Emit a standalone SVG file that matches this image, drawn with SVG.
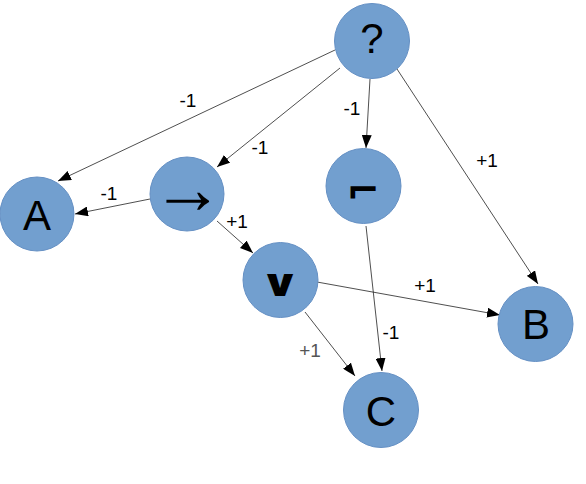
<svg xmlns="http://www.w3.org/2000/svg" width="586" height="484" viewBox="0 0 586 484">
<style>
.n{fill:#729fcf;stroke:#6590c4;stroke-width:1}
.t{font-family:"Liberation Sans","DejaVu Sans",sans-serif;font-size:42px;fill:#000;text-anchor:middle}
.s{font-family:"DejaVu Sans",sans-serif;fill:#000;text-anchor:middle}
.e{stroke:#222;stroke-width:0.8;fill:none;marker-end:url(#ah)}
.l{font-family:"Liberation Sans","DejaVu Sans",sans-serif;font-size:19px;fill:#000;text-anchor:middle}
</style>
<defs>
<marker id="ah" markerUnits="userSpaceOnUse" markerWidth="14" markerHeight="10" refX="13" refY="5" orient="auto">
<path d="M0,0 L13,5 L0,10 Z" fill="#000"/>
</marker>
</defs>
<rect width="586" height="484" fill="#fff"/>
<g id="edges">
<line class="e" x1="335" y1="50" x2="58" y2="181"/>
<line class="e" x1="340" y1="68" x2="217" y2="167"/>
<line class="e" x1="370" y1="79" x2="366" y2="148"/>
<line class="e" x1="397" y1="69" x2="538" y2="284"/>
<line class="e" x1="150" y1="199" x2="75" y2="214"/>
<line class="e" x1="217" y1="221" x2="253" y2="253"/>
<line class="e" x1="317" y1="282" x2="500" y2="315"/>
<line class="e" x1="305" y1="312" x2="355" y2="376"/>
<line class="e" x1="366" y1="226" x2="382" y2="371"/>
<text class="l" x="188" y="107">-1</text>
<text class="l" x="260" y="154">-1</text>
<text class="l" x="352" y="115">-1</text>
<text class="l" x="487" y="167">+1</text>
<text class="l" x="109" y="200">-1</text>
<text class="l" x="237" y="228">+1</text>
<text class="l" x="425" y="292">+1</text>
<text class="l" x="310" y="357" style="fill:#555">+1</text>
<text class="l" x="391" y="339">-1</text>
</g>
<g id="q"><circle class="n" cx="372" cy="41" r="37.5"/><text class="t" x="372" y="53">?</text></g>
<g id="A"><circle class="n" cx="37" cy="214" r="37"/><text class="t" x="37" y="230">A</text></g>
<g id="imp"><circle class="n" cx="187" cy="194" r="37"/><text class="t" x="187.5" y="212.5" style="font-size:72px">→</text></g>
<g id="not"><circle class="n" cx="363.5" cy="186" r="37.5"/><text class="s" x="363" y="204" style="font-size:40px;font-weight:bold">⌐</text></g>
<g id="or"><circle class="n" cx="280.5" cy="280" r="37.5"/><text class="s" transform="translate(280,296) scale(1.35,1)" x="0" y="0" style="font-size:38px;font-weight:bold">∨</text></g>
<g id="B"><circle class="n" cx="535.5" cy="324" r="37.5"/><text class="t" x="536" y="339">B</text></g>
<g id="C"><circle class="n" cx="381" cy="410" r="37.5"/><text class="t" x="381" y="426">C</text></g>
</svg>
